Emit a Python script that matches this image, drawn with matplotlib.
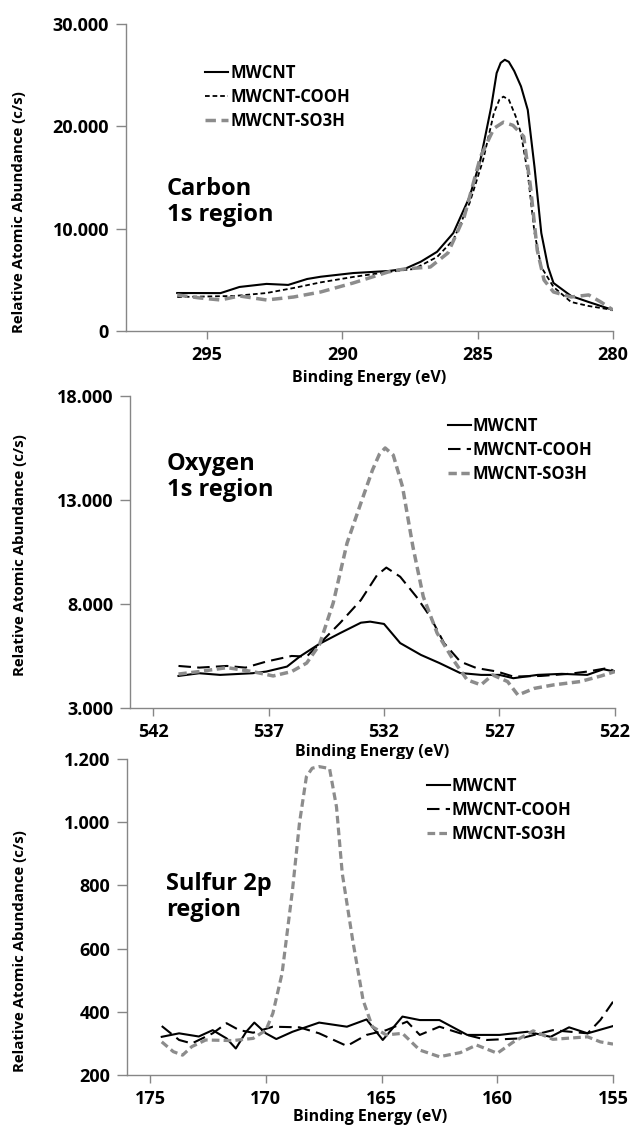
import matplotlib.pyplot as plt
from matplotlib.ticker import FuncFormatter, FixedLocator

plt.rcParams['font.family'] = ['Open Sans', 'DejaVu Sans']
plt.rcParams['font.weight'] = 'bold'

labels = ['MWCNT', 'MWCNT-COOH', 'MWCNT-SO3H']

# Carbon 1s
c_x_mw = [296.1, 294.5, 293.8, 292.8, 292.0, 291.3, 290.8, 289.6, 288.3, 287.7, 287.1, 286.5, 285.9, 285.3,
          284.9, 284.5, 284.3, 284.15, 284.0, 283.85, 283.65, 283.4, 283.15, 282.9, 282.65, 282.4, 282.2,
          281.55, 280.9, 280.0]
c_y_mw = [3710, 3700, 4300, 4600, 4500, 5080, 5300, 5660, 5860, 6060, 6770, 7740, 9570, 13100,
          16700, 21900, 25200, 26200, 26500, 26300, 25400, 23900, 21600, 16000, 9570, 6250, 4690,
          3420, 2830, 2050]
c_x_cooh = [296.1, 294.0, 292.8, 291.8, 290.8, 289.6, 288.3, 287.35, 286.5, 285.9, 285.3, 284.8, 284.4,
            284.2, 284.05, 283.85, 283.6, 283.4, 283.15, 282.9, 282.65, 282.2, 281.55, 280.9, 280.0]
c_y_cooh = [3320, 3420, 3710, 4200, 4750, 5280, 5770, 6060, 7230, 8900, 12500, 16700, 21300,
            22600, 22900, 22600, 21000, 19300, 15400, 9570, 6250, 4300, 2830, 2440, 2050]
c_x_so3h = [296.1, 295.25, 294.5, 293.8, 292.8, 291.8, 290.8, 289.6, 288.3, 287.7, 286.75, 286.1, 285.5,
            284.9, 284.4, 284.05, 283.7, 283.3, 283.05, 282.8, 282.55, 282.2, 281.55, 280.9, 280.45, 280.0]
c_y_so3h = [3520, 3220, 3030, 3420, 3030, 3320, 3810, 4690, 5770, 6060, 6250, 7620, 11140,
            17000, 19800, 20400, 20100, 19000, 14100, 7900, 4980, 3810, 3320, 3520, 2830, 2050]

# Oxygen 1s
o_x_mw = [540.9, 540.0, 539.1, 537.7, 537.1, 536.2, 535.65, 534.8, 533.9, 533.0, 532.6, 532.0, 531.3,
          530.4, 529.6, 528.7, 527.8, 527.0, 526.4, 525.35, 524.3, 523.2, 522.5, 522.0]
o_y_mw = [4540, 4670, 4590, 4670, 4750, 4990, 5470, 6080, 6600, 7100, 7150, 7040, 6120,
          5550, 5160, 4680, 4590, 4590, 4430, 4590, 4640, 4590, 4860, 4750]
o_x_cooh = [540.9, 540.0, 538.8, 538.0, 537.1, 536.0, 535.35, 534.8, 533.9, 533.0, 532.3, 531.9, 531.3,
            530.6, 530.0, 529.4, 528.7, 528.0, 527.1, 526.4, 525.2, 524.0, 523.2, 522.3, 522.0]
o_y_cooh = [5020, 4940, 5020, 4940, 5230, 5500, 5470, 6080, 7090, 8190, 9390, 9750, 9310,
            8350, 7390, 6120, 5230, 4920, 4750, 4510, 4540, 4640, 4750, 4920, 4750]
o_x_so3h = [540.9, 540.0, 538.8, 537.7, 536.8, 536.0, 535.35, 534.8, 534.2, 533.6, 533.0, 532.5, 532.2,
            531.95, 531.6, 531.2, 530.75, 530.3, 529.7, 529.0, 528.4, 527.8, 527.3, 526.65, 526.2, 525.5,
            524.65, 523.5, 522.6, 522.0]
o_y_so3h = [4630, 4750, 4940, 4750, 4540, 4750, 5160, 6030, 8050, 10930, 12860, 14440, 15200,
            15500, 15160, 13640, 10760, 8350, 6600, 5310, 4350, 4110, 4590, 4270, 3620, 3940,
            4110, 4270, 4540, 4750]

# Sulfur 2p
s_x_mw = [174.5, 173.75, 172.9, 172.3, 171.7, 171.3, 170.85, 170.5, 170.0, 169.55, 168.85, 167.7, 166.5,
          165.65, 164.95, 164.1, 163.35, 162.5, 161.3, 159.9, 158.7, 157.7, 156.9, 156.1, 155.0]
s_y_mw = [321, 332, 322, 342, 316, 284, 337, 366, 332, 314, 337, 366, 353,
          376, 311, 385, 374, 374, 327, 327, 337, 321, 351, 332, 355]
s_x_cooh = [174.5, 173.75, 173.2, 172.3, 171.7, 171.15, 170.55, 169.7, 168.55, 167.7, 166.5, 165.65,
            164.8, 163.9, 163.35, 162.5, 161.6, 160.45, 159.0, 157.6, 156.1, 155.55, 155.0]
s_y_cooh = [355, 311, 300, 332, 364, 342, 334, 353, 351, 332, 292, 327,
            342, 369, 327, 353, 332, 311, 316, 342, 332, 374, 432]
s_x_so3h = [174.5, 174.0, 173.6, 173.2, 172.6, 171.45, 170.55, 170.0, 169.7, 169.3, 168.85, 168.55,
            168.25, 168.0, 167.7, 167.25, 166.95, 166.7, 166.25, 165.8, 165.4, 164.8, 164.1, 163.35,
            162.5, 161.6, 160.9, 160.0, 159.3, 158.45, 157.6, 156.1, 155.55, 155.0]
s_y_so3h = [305, 274, 263, 290, 311, 309, 316, 342, 395, 522, 786, 997,
            1144, 1171, 1176, 1170, 1049, 838, 627, 437, 353, 327, 332, 279,
            258, 271, 295, 269, 305, 340, 313, 321, 305, 298]

c_xticks = [295, 290, 285, 280]
c_yticks = [0, 10000, 20000, 30000]
o_xticks = [542, 537, 532, 527, 522]
o_yticks = [3000, 8000, 13000, 18000]
s_xticks = [175, 170, 165, 160, 155]
s_yticks = [200, 400, 600, 800, 1000, 1200]

GRAY = '#8c8c8c'
AXC = '#868686'


def dotted_thousands(v, pos):
    return f'{v:,.0f}'.replace(',', '.')


def style_axis(ax, xlim, ylim, xticks, yticks, ylab_x, ylab_y, xlab_y):
    ax.set_xlim(*xlim)
    ax.set_ylim(*ylim)
    ax.xaxis.set_major_locator(FixedLocator(xticks))
    ax.yaxis.set_major_locator(FixedLocator(yticks))
    ax.yaxis.set_major_formatter(FuncFormatter(dotted_thousands))
    for s in ['top', 'right']:
        ax.spines[s].set_visible(False)
    for s in ['left', 'bottom']:
        ax.spines[s].set_color(AXC)
        ax.spines[s].set_linewidth(1.0)
    ax.tick_params(axis='both', colors=AXC, labelcolor='black', labelsize=13, width=1)
    ax.tick_params(axis='x', pad=5, length=6)
    ax.tick_params(axis='y', pad=5, length=7)
    ax.set_ylabel('Relative Atomic Abundance (c/s)', fontsize=10.8, fontweight='bold')
    ax.yaxis.set_label_coords(ylab_x, ylab_y)
    ax.set_xlabel('Binding Energy (eV)', fontsize=11.5, fontweight='bold', va='center')
    ax.xaxis.set_label_coords(0.5, xlab_y)


fig = plt.figure(figsize=(6.32, 11.25), dpi=100)

# panel 1
ax1 = fig.add_axes([0.199, 0.7058, 0.771, 0.2729])
ax1.plot(c_x_mw, c_y_mw, color='black', lw=1.5, label=labels[0])
ax1.plot(c_x_cooh, c_y_cooh, color='black', lw=1.3, dashes=(2.6, 1.6), label=labels[1])
ax1.plot(c_x_so3h, c_y_so3h, color=GRAY, lw=2.5, dashes=(3.0, 1.6), label=labels[2])
style_axis(ax1, (298, 280), (0, 30000), c_xticks, c_yticks, -0.205, 0.388, -0.153)
ax1.text(0.084, 0.42, 'Carbon\n1s region', transform=ax1.transAxes, fontsize=17,
         fontweight='bold', ha='left', va='center', linespacing=1.15)
ax1.legend(loc='upper left', bbox_to_anchor=(0.162, 0.87), frameon=False, fontsize=12,
           handlelength=1.4, handletextpad=0.15, labelspacing=0.35, borderpad=0, borderaxespad=0)

# panel 2
ax2 = fig.add_axes([0.2057, 0.3707, 0.7673, 0.2773])
ax2.plot(o_x_mw, o_y_mw, color='black', lw=1.5, label=labels[0])
ax2.plot(o_x_cooh, o_y_cooh, color='black', lw=1.5, dashes=(6, 3), label=labels[1])
ax2.plot(o_x_so3h, o_y_so3h, color=GRAY, lw=2.5, dashes=(2.4, 1.3), label=labels[2])
style_axis(ax2, (543, 522), (3000, 18000), o_xticks, o_yticks, -0.212, 0.49, -0.141)
ax2.text(0.076, 0.74, 'Oxygen\n1s region', transform=ax2.transAxes, fontsize=17,
         fontweight='bold', ha='left', va='center', linespacing=1.15)
ax2.legend(loc='upper left', bbox_to_anchor=(0.656, 0.933), frameon=False, fontsize=12,
           handlelength=1.4, handletextpad=0.05, labelspacing=0.35, borderpad=0, borderaxespad=0)

# panel 3
ax3 = fig.add_axes([0.201, 0.0444, 0.769, 0.2809])
ax3.plot(s_x_mw, s_y_mw, color='black', lw=1.5, label=labels[0])
ax3.plot(s_x_cooh, s_y_cooh, color='black', lw=1.5, dashes=(6, 3), label=labels[1])
ax3.plot(s_x_so3h, s_y_so3h, color=GRAY, lw=2.3, dashes=(2.4, 1.3), label=labels[2])
style_axis(ax3, (176, 155), (200, 1200), s_xticks, s_yticks, -0.206, 0.392, -0.133)
ax3.text(0.08, 0.563, 'Sulfur 2p\nregion', transform=ax3.transAxes, fontsize=17,
         fontweight='bold', ha='left', va='center', linespacing=1.15)
ax3.legend(loc='upper left', bbox_to_anchor=(0.617, 0.943), frameon=False, fontsize=12,
           handlelength=1.4, handletextpad=0.05, labelspacing=0.35, borderpad=0, borderaxespad=0)

fig.savefig('out.png', dpi=100, facecolor='white')
